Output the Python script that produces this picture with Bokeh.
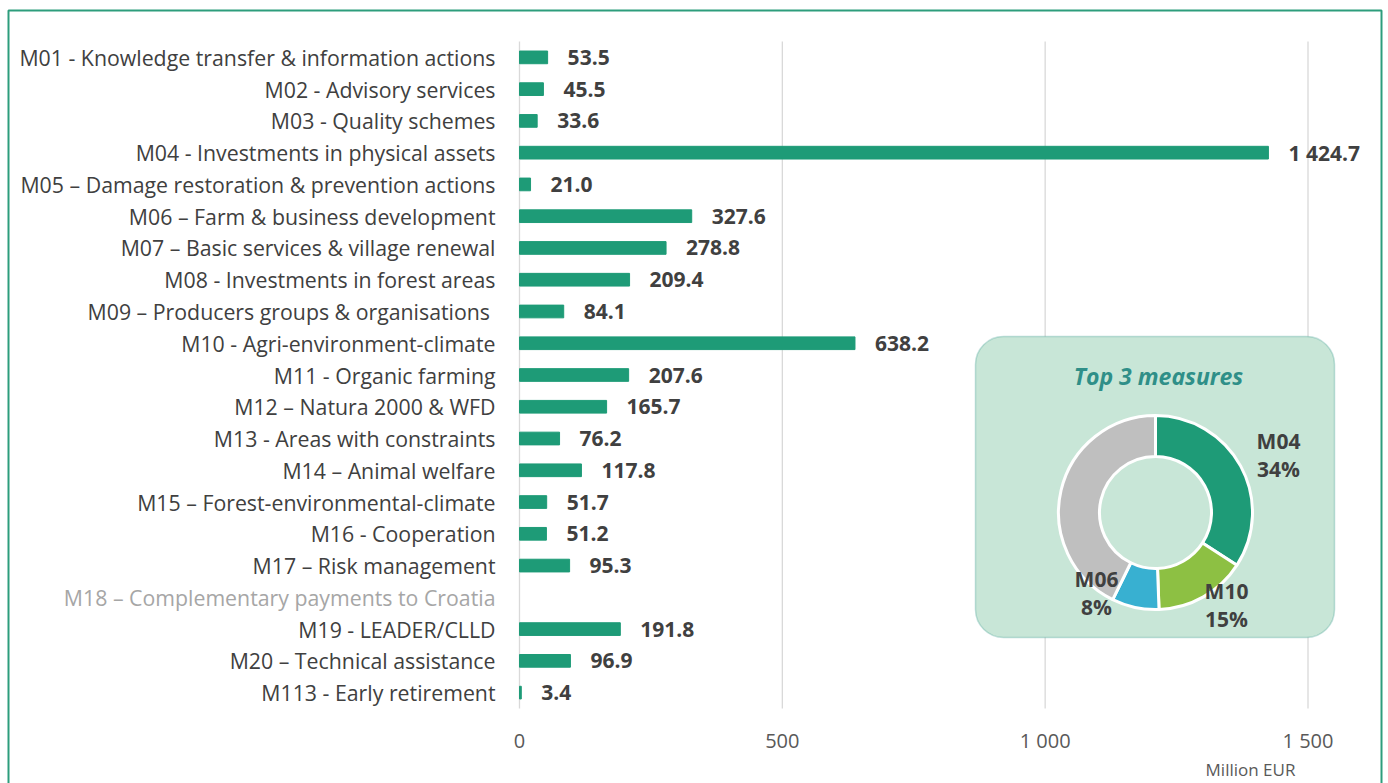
import math
import numpy as np
from bokeh.plotting import figure
from bokeh.models import ColumnDataSource, BoxAnnotation, Range1d
from bokeh.core.properties import value
from bokeh.embed import file_html
from bokeh.resources import INLINE

# ---------------- data ----------------
categories = [
    "M01 - Knowledge transfer & information actions",
    "M02 - Advisory services",
    "M03 - Quality schemes",
    "M04 - Investments in physical assets",
    "M05 \u2013 Damage restoration & prevention actions",
    "M06 \u2013 Farm & business development",
    "M07 \u2013 Basic services & village renewal",
    "M08 - Investments in forest areas",
    "M09 \u2013 Producers groups  & organisations",
    "M10 - Agri-environment-climate",
    "M11 - Organic farming",
    "M12 \u2013 Natura 2000 & WFD",
    "M13 - Areas with constraints",
    "M14 \u2013 Animal welfare",
    "M15 \u2013 Forest-environmental-climate",
    "M16 - Cooperation",
    "M17 \u2013 Risk management",
    "M18 \u2013 Complementary payments to Croatia",
    "M19 - LEADER/CLLD",
    "M20 \u2013 Technical assistance",
    "M113 - Early retirement",
]
amounts = [53.5, 45.5, 33.6, 1424.7, 21.0, 327.6, 278.8, 209.4, 84.1, 638.2,
           207.6, 165.7, 76.2, 117.8, 51.7, 51.2, 95.3, None, 191.8, 96.9, 3.4]
x_ticks = [0, 500, 1000, 1500]
x_tick_labels = ["0", "500", "1 000", "1 500"]
unit_label = "Million EUR"
top_codes = ["M04", "M10", "M06"]
top_colors = ["#1e9b77", "#8dc043", "#38b0d1"]
rest_color = "#bfbfbf"

# ---------------- layout helpers (canvas pixels -> data) ----------------
W, H = 1388, 783
PLOT_TOP, PLOT_BOTTOM = 41, 708
X0_PX, XMAX_PX = 519.0, 1307.5
kx = (XMAX_PX - X0_PX) / x_ticks[-1]
n = len(categories)
ky = (PLOT_BOTTOM - PLOT_TOP) / n


def X(px):
    return (px - X0_PX) / kx


def Y(py):
    return -0.5 + (PLOT_BOTTOM - py) / ky


BAR = "#1e9b77"
DARK = "#404040"
GREY_TXT = "#595959"
FONT = value("Open Sans")

p = figure(width=W, height=H, x_range=Range1d(X(0), X(W)), y_range=Range1d(Y(H), Y(0)),
           min_border=0, x_axis_location=None, y_axis_location=None,
           toolbar_location=None, output_backend="svg")
p.outline_line_color = None
p.xgrid.visible = False
p.ygrid.visible = False
p.background_fill_color = "white"
p.border_fill_color = "white"

# grid lines at the x ticks, spanning the category band
p.segment(x0=x_ticks, x1=x_ticks, y0=-0.5, y1=n - 0.5, line_color="#d9d9d9",
          line_width=1.3, level="image")
# tick labels
p.text(x=x_ticks, y=Y(740), text=x_tick_labels, text_align="center", text_baseline="middle",
       text_font=FONT, text_font_size="20px", text_color=GREY_TXT)
p.text(x=[X(1250)], y=[Y(769)], text=[unit_label], text_align="center", text_baseline="middle",
       text_font=FONT, text_font_size="17px", text_color=GREY_TXT)

ys = [n - 1 - i for i in range(n)]
vals = [np.nan if a is None else a for a in amounts]

src = ColumnDataSource(dict(y=ys, v=vals, cat=categories,
                            col=["#a6a6a6" if a is None else DARK for a in amounts]))
p.hbar(y="y", left=0, right="v", height=0.4, color=BAR, source=src)

p.text(x=0, y="y", text="cat", text_color="col", source=src, x_offset=-24,
       text_align="right", text_baseline="middle", text_font=FONT, text_font_size="21.3px")

lab_idx = [i for i, a in enumerate(amounts) if a is not None]
vsrc = ColumnDataSource(dict(
    y=[ys[i] for i in lab_idx], v=[amounts[i] for i in lab_idx],
    t=[f"{amounts[i]:,.1f}".replace(",", " ") for i in lab_idx]))
p.text(x="v", y="y", text="t", source=vsrc, x_offset=20, text_align="left",
       text_baseline="middle", text_font=FONT, text_font_style="bold",
       text_font_size="21px", text_color=DARK)

# ---------------- inset ----------------
inset = BoxAnnotation(left=X(975), right=X(1334), top=Y(336), bottom=Y(637),
                      fill_color="#c8e6d7", fill_alpha=1, line_color="#3b9d8e",
                      line_width=1.5, border_radius=28, level="underlay")
p.add_layout(inset)

p.text(x=[X(1158)], y=[Y(375)], text=["Top 3 measures"], text_align="center",
       text_baseline="middle", text_font=FONT, text_font_style="bold italic",
       text_font_size="23px", text_color="#2f8f88")

total = sum(a for a in amounts if a is not None)
code_of = [c.split(" ")[0] for c in categories]
shares = [amounts[code_of.index(c)] / total for c in top_codes]
shares_all = shares + [1 - sum(shares)]
cols_all = top_colors + [rest_color]
cum = np.concatenate([[0], np.cumsum(shares_all)])
start = [math.pi / 2 - 2 * math.pi * cum[i] for i in range(4)]
end = [math.pi / 2 - 2 * math.pi * cum[i + 1] for i in range(4)]
cx, cy = X(1155), Y(512)
dsrc = ColumnDataSource(dict(x=[cx] * 4, y=[cy] * 4, s=start, e=end, c=cols_all))
p.annular_wedge(x="x", y="y", inner_radius=56, outer_radius=97,
                inner_radius_units="screen", outer_radius_units="screen",
                start_angle="s", end_angle="e", direction="clock",
                fill_color="c", line_color="white", line_width=3, source=dsrc)

lab_dx = [123, 71, -59]
lab_dy = [-58, 92, 80]
for code, sh, dx, dy in zip(top_codes, shares, lab_dx, lab_dy):
    for txt, off in ((code, -14), (f"{round(sh * 100)}%", 14)):
        p.text(x=[cx], y=[cy], text=[txt], x_offset=dx, y_offset=dy + off,
               text_align="center", text_baseline="middle", text_font=FONT,
               text_font_style="bold", text_font_size="21px", text_color=DARK)

# ---------------- outer frame (open at the bottom) ----------------
p.line(x=[X(8), X(8), X(1381), X(1381)], y=[Y(790), Y(10), Y(10), Y(790)],
       line_color="#2d9d7c", line_width=2)

open("out.html", "w").write(file_html(p, INLINE))
